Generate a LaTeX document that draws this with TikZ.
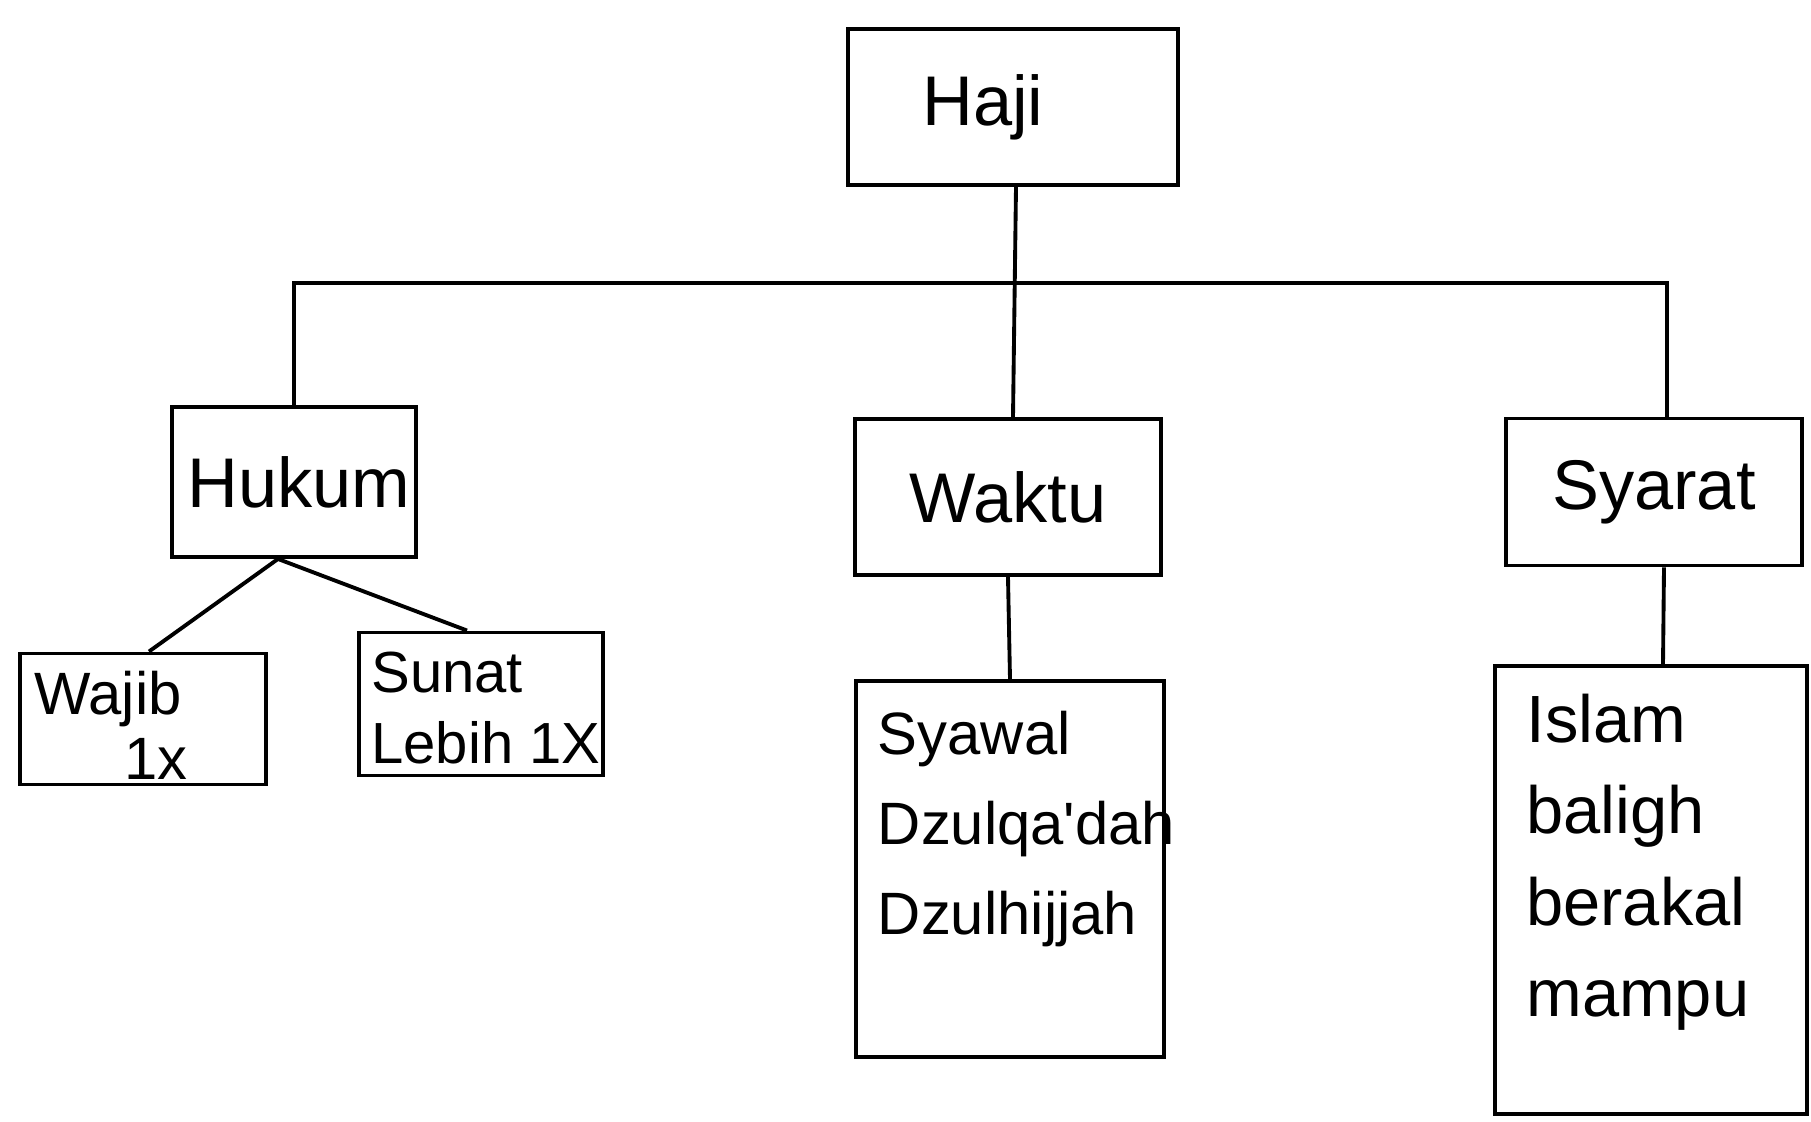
\documentclass[tikz,border=0pt]{standalone}
\usepackage{fontspec}
\setmainfont{Liberation Sans}
\usepackage{tikz}

\begin{document}
\begin{tikzpicture}[x=0.01cm,y=-0.01cm,line width=1.1pt,
  box/.style={draw,rectangle,inner sep=0pt,font=\fontsize{20}{24}\selectfont},
  lst/.style={anchor=north west,inner sep=0pt,align=left}]
\useasboundingbox (0,0) rectangle (1811,1122);
\node[box,minimum width=3.29cm,minimum height=1.56cm] (haji) at (1013,107) {\hspace*{-0.6cm}Haji};
\node[box,minimum width=2.43cm,minimum height=1.50cm] (hukum) at (294,482) {\hspace*{0.1cm}Hukum};
\node[box,minimum width=3.05cm,minimum height=1.56cm] (waktu) at (1008,497) {Waktu};
\node[box,minimum width=2.95cm,minimum height=1.47cm] (syarat) at (1654,492) {Syarat};
\node[box,minimum width=2.45cm,minimum height=1.31cm] (wajib) at (143,719) {};
\node[box,minimum width=2.43cm,minimum height=1.43cm] (sunat) at (481,704) {};
\node[box,minimum width=3.08cm,minimum height=3.76cm] (bulan) at (1010,869) {};
\node[box,minimum width=3.11cm,minimum height=4.48cm] (rukun) at (1651,890) {};
% isi kotak
\node[lst,font=\fontsize{17}{18.5}\selectfont] (wajibisi) at ([xshift=0.14cm,yshift=-0.18cm]wajib.north west) {Wajib\\\hspace*{0.9cm}1x};
\node[lst,font=\fontsize{16.5}{20}\selectfont] (sunatisi) at ([xshift=0.12cm,yshift=-0.20cm]sunat.north west) {Sunat\\Lebih 1X};
\node[lst,font=\fontsize{17}{25.6}\selectfont] (bulanisi) at ([xshift=0.22cm,yshift=-0.30cm]bulan.north west) {Syawal\\Dzulqa\textquotesingle dah\\Dzulhijjah};
\node[lst,font=\fontsize{19}{26}\selectfont] (rukunisi) at ([xshift=0.31cm,yshift=-0.28cm]rukun.north west) {Islam\\baligh\\berakal\\mampu};
% garis
\coordinate (bus) at (0,283);
\coordinate (syaratatas) at ([xshift=0.13cm]syarat.north);
\draw ([xshift=0.03cm]haji.south) -- ([xshift=0.05cm]waktu.north);
\draw (hukum.north) |- (bus -| syaratatas) -- (syaratatas);
\draw ([xshift=-0.16cm]hukum.south) -- ([xshift=0.06cm]wajib.north);
\draw ([xshift=-0.16cm]hukum.south) -- ([xshift=-0.14cm]sunat.north);
\draw (waktu.south) -- (bulan.north);
\draw ([xshift=0.10cm]syarat.south) -- ([xshift=0.12cm]rukun.north);
\end{tikzpicture}
\end{document}
